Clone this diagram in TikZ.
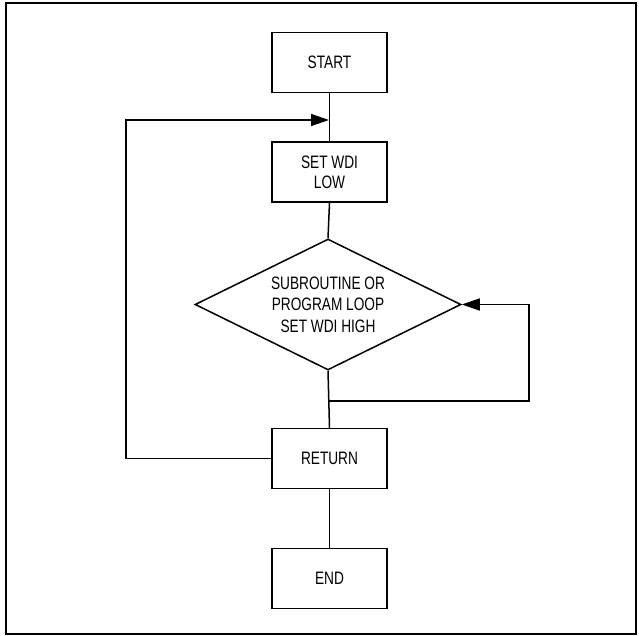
\documentclass[tikz,border=0pt]{standalone}
\usepackage{fontspec}
\setmainfont{Liberation Sans}[FakeStretch=0.76]
\usetikzlibrary{shapes.geometric,arrows.meta}
\begin{document}
\begin{tikzpicture}[x=1pt,y=-1pt,
  line width=1.5pt,
  box/.style={draw,minimum width=115pt,minimum height=60pt,inner sep=0pt,align=center,font=\fontsize{18}{20}\selectfont},
  dec/.style={draw,diamond,aspect=2.03,minimum width=266pt,minimum height=131pt,inner sep=0pt,align=center,font=\fontsize{18}{21.5}\selectfont},
  arr/.style={-{Triangle[length=18pt,width=12pt]}}]
\useasboundingbox (0,0) rectangle (639,636);
\draw[line width=1.8pt] (6,3) rectangle (636,634);
\node[box] (start) at (329.5,62.7) {START};
\node[box] (setwdi) at (329.5,172) {SET WDI\\LOW};
\node[dec] (dia) at (328,304.5) {SUBROUTINE OR\\PROGRAM LOOP\\SET WDI HIGH};
\node[box] (ret) at (329.5,458.5) {RETURN};
\node[box] (fin) at (329.5,578.3) {END};
\coordinate (j1) at (329,120);
\coordinate (j2) at (328,401);
\coordinate (lx) at (126,0);
\coordinate (rx) at (529,0);
\draw (start.south) -- (setwdi.north);
\draw (setwdi.south) -- (dia.north);
\draw (dia.south) -- (ret.north);
\draw (ret.south) -- (fin.north);
\draw[arr] (ret.west) -- (ret.west -| lx) |- (j1);
\draw[arr] (j2) -- (j2 -| rx) |- (dia.east);
\end{tikzpicture}
\end{document}
